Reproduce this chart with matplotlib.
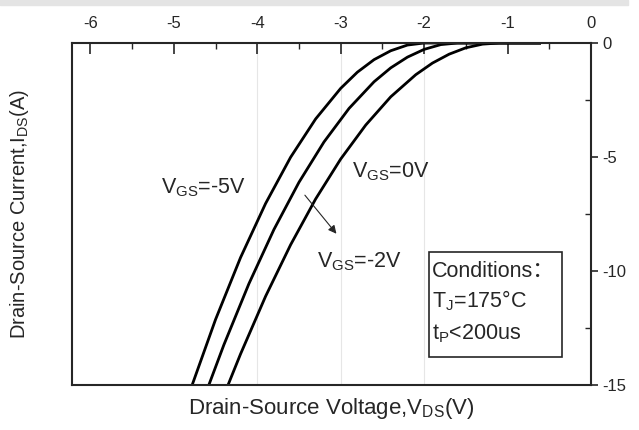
import matplotlib

matplotlib.use("Agg")
import matplotlib.pyplot as plt
from matplotlib.patches import Rectangle
from matplotlib.ticker import MultipleLocator

plt.rcParams["font.family"] = ["Liberation Sans", "Noto Sans CJK SC", "DejaVu Sans"]
plt.rcParams["mathtext.fontset"] = "custom"
plt.rcParams["mathtext.rm"] = "Liberation Sans"
plt.rcParams["mathtext.it"] = "Liberation Sans"
plt.rcParams["axes.unicode_minus"] = False

# curves (V_DS in V, I_DS in A)
vds_m5 = [-0.6, -2.0, -2.2, -2.4, -2.6, -2.8, -3.0, -3.3, -3.6, -3.9, -4.2, -4.5, -4.78]
ids_m5 = [0.0, 0.0, -0.09, -0.34, -0.73, -1.28, -1.99, -3.33, -5.01, -7.04, -9.41, -12.13, -15.0]

vds_m2 = [-0.6, -1.6, -1.8, -2.0, -2.2, -2.4, -2.6, -2.9, -3.2, -3.5, -3.8, -4.1, -4.4, -4.58]
ids_m2 = [0.0, 0.0, -0.07, -0.28, -0.62, -1.09, -1.70, -2.87, -4.34, -6.11, -8.18, -10.56, -13.24, -15.0]

vds_0 = [-0.6, -1.1, -1.3, -1.5, -1.7, -1.9, -2.1, -2.4, -2.7, -3.0, -3.3, -3.6, -3.9, -4.2, -4.35]
ids_0 = [0.0, 0.0, -0.05, -0.21, -0.49, -0.88, -1.39, -2.36, -3.60, -5.09, -6.84, -8.85, -11.11, -13.64, -15.0]

x_ticks = [-6, -5, -4, -3, -2, -1, 0]
y_ticks = [0, -5, -10, -15]
grid_x = [-4, -3, -2]

ink = "#262626"

fig = plt.figure(figsize=(6.39, 4.30), dpi=100)
fig.patches.append(
    Rectangle((0, 1 - 5 / 430), 628 / 639, 5 / 430, transform=fig.transFigure,
              color="#e4e4e4", zorder=0)
)
ax = fig.add_axes([72 / 639, 45 / 430, 519 / 639, 342 / 430])

for gx in grid_x:
    ax.axvline(gx, color="#e6e6e6", linewidth=0.8, zorder=0)

for vx, iy in [(vds_m5, ids_m5), (vds_m2, ids_m2), (vds_0, ids_0)]:
    ax.plot(vx, iy, color="black", linewidth=2.0, solid_capstyle="butt")

ax.set_xlim(-6.22, 0)
ax.set_ylim(-15, 0)

ax.xaxis.tick_top()
ax.xaxis.set_label_position("bottom")
ax.yaxis.tick_right()
ax.set_xticks(x_ticks)
ax.set_yticks(y_ticks)
ax.xaxis.set_minor_locator(MultipleLocator(0.5))
ax.yaxis.set_minor_locator(MultipleLocator(2.5))
ax.tick_params(axis="x", which="major", direction="in", length=8, width=1.2,
               colors=ink, labelsize=12, pad=9)
ax.tick_params(axis="x", which="minor", direction="in", length=4, width=1.0, colors=ink)
ax.tick_params(axis="y", which="major", direction="out", length=5, width=1.2,
               colors=ink, labelsize=12, pad=3)
ax.tick_params(axis="y", which="minor", direction="in", length=4, width=1.0, colors=ink)
for spine in ax.spines.values():
    spine.set_color(ink)
    spine.set_linewidth(1.5)

ax.set_xlabel(r"Drain-Source Voltage,V$_{\mathrm{DS}}$(V)", fontsize=16, color=ink, labelpad=8)
fig.text(20 / 639, 1 - 214 / 430, r"Drain-Source Current,I$_{\mathrm{DS}}$(A)", fontsize=14.5,
         color=ink, rotation=90, ha="center", va="center")

ax.text(-4.64, -6.36, r"V$_{\mathrm{GS}}$=-5V", fontsize=15.5, color=ink, ha="center", va="center")
ax.text(-2.40, -5.66, r"V$_{\mathrm{GS}}$=0V", fontsize=15.5, color=ink, ha="center", va="center")
ax.text(-2.78, -9.6, r"V$_{\mathrm{GS}}$=-2V", fontsize=15.5, color=ink, ha="center", va="center")
ax.annotate("", xy=(-3.03, -8.46), xytext=(-3.45, -6.58),
            arrowprops=dict(arrowstyle="-|>", color=ink, lw=0.8, mutation_scale=12))

ax.add_patch(Rectangle((-1.94, -13.77), 1.59, 4.6, fill=False, edgecolor=ink, linewidth=1.2))
ax.text(-1.91, -10.0, "Conditions：", fontsize=15.5, color=ink, ha="left", va="center")
ax.text(-1.91, -11.3, r"T$_{\mathrm{J}}$=175°C", fontsize=15.5, color=ink, ha="left", va="center")
ax.text(-1.91, -12.75, r"t$_{\mathrm{P}}$<200us", fontsize=15.5, color=ink, ha="left", va="center")

fig.savefig("out.png", dpi=100, facecolor="white")
plt.close(fig)
